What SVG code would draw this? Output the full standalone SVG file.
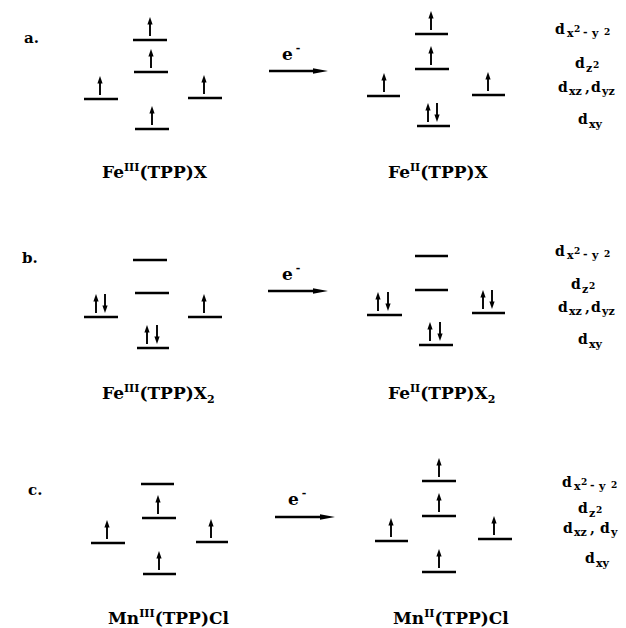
<svg xmlns="http://www.w3.org/2000/svg" width="626" height="628" viewBox="0 0 626 628">
  <style>
    .lvl { stroke: #000; stroke-width: 2.6; fill: none; }
    .shaft { stroke: #000; stroke-width: 1.9; fill: none; }
    .head { fill: #000; stroke: none; }
    .rxn { stroke: #000; stroke-width: 2.3; fill: none; }
    text { font-family: "DejaVu Serif", "Liberation Serif", serif; font-weight: bold; fill: #000; }
    .sec { font-size: 15px; }
    .cmp { font-size: 17px; }
    .sup { font-size: 11px; }
    .orb { font-size: 14px; }
    .sub { font-size: 11px; }
    .sq { font-size: 9px; }
  </style>
  <defs>
    <!-- spin-up electron: origin sits on the orbital bar -->
    <g id="up">
      <path class="shaft" d="M0,-4V-16"/>
      <path class="head" d="M-2.6,-15.5L0,-23L2.6,-15.5Z"/>
    </g>
    <!-- spin-down electron -->
    <g id="dn">
      <path class="shaft" d="M0,-23V-11"/>
      <path class="head" d="M-2.6,-11.5L0,-4L2.6,-11.5Z"/>
    </g>
    <marker id="rxhead" markerUnits="userSpaceOnUse" markerWidth="16" markerHeight="6" refX="3" refY="3" orient="auto">
      <path d="M0,0.3L15,3L0,5.7Z" fill="#000"/>
    </marker>
  </defs>

  <!-- section letters -->
  <text class="sec" x="24" y="43">a.</text>
  <text class="sec" x="22" y="263">b.</text>
  <text class="sec" x="28" y="495">c.</text>

  <!-- reduction arrows -->
  <g id="connectors">
    <path class="rxn" d="M269,71H316" marker-end="url(#rxhead)"/>
    <path class="rxn" d="M268,291H316" marker-end="url(#rxhead)"/>
    <path class="rxn" d="M275,517H323" marker-end="url(#rxhead)"/>
    <text class="cmp" x="282" y="60">e<tspan class="sup" dx="3" dy="-8">-</tspan></text>
    <text class="cmp" x="282" y="280">e<tspan class="sup" dx="3" dy="-8">-</tspan></text>
    <text class="cmp" x="288" y="505">e<tspan class="sup" dx="3" dy="-8">-</tspan></text>
  </g>

  <!-- a. Fe(III)(TPP)X -->
  <g id="fe3-x">
    <path class="lvl" d="M133,40H167M134,72H168M84,99H118M188,98H222M135,129H169"/>
    <use href="#up" x="150" y="40"/>
    <use href="#up" x="151" y="72"/>
    <use href="#up" x="100" y="99"/>
    <use href="#up" x="204" y="98"/>
    <use href="#up" x="152" y="129"/>
    <text class="cmp" x="102" y="178">Fe<tspan class="sup" dy="-7">III</tspan><tspan dy="7">(TPP)X</tspan></text>
  </g>

  <!-- a. Fe(II)(TPP)X -->
  <g id="fe2-x">
    <path class="lvl" d="M415,34H448M415,69H449M367,96H400M472,95H505M417,126H450"/>
    <use href="#up" x="431" y="34"/>
    <use href="#up" x="431" y="69"/>
    <use href="#up" x="384" y="96"/>
    <use href="#up" x="488" y="95"/>
    <use href="#up" x="428" y="126"/>
    <use href="#dn" x="437" y="126"/>
    <text class="cmp" x="388" y="178">Fe<tspan class="sup" dy="-7">II</tspan><tspan dy="7">(TPP)X</tspan></text>
  </g>

  <!-- a. orbital labels -->
  <g id="orb-a">
    <text class="orb" x="555" y="34">d<tspan class="sub" x="567" y="37">x</tspan><tspan class="sq" x="574" y="32">2</tspan><tspan class="sub" x="583" y="36">-</tspan><tspan class="sub" x="592" y="37">y</tspan><tspan class="sq" x="604" y="35">2</tspan></text>
    <text class="orb" x="575" y="68">d<tspan class="sub" x="586" y="72">z</tspan><tspan class="sq" x="593" y="68">2</tspan></text>
    <text class="orb" x="558" y="92">d<tspan class="sub" x="569" y="95">xz</tspan><tspan x="585" y="92">,</tspan><tspan x="591" y="92">d</tspan><tspan class="sub" x="602" y="95">yz</tspan></text>
    <text class="orb" x="578" y="124">d<tspan class="sub" x="589" y="128">xy</tspan></text>
  </g>

  <!-- b. Fe(III)(TPP)X2 -->
  <g id="fe3-x2">
    <path class="lvl" d="M133,260H167M135,293H169M84,317H118M188,317H222M137,348H169"/>
    <use href="#up" x="96" y="317"/>
    <use href="#dn" x="105" y="317"/>
    <use href="#up" x="204" y="317"/>
    <use href="#up" x="147" y="348"/>
    <use href="#dn" x="157" y="348"/>
    <text class="cmp" x="102" y="399">Fe<tspan class="sup" dy="-7">III</tspan><tspan dy="7">(TPP)X</tspan><tspan class="sup" dy="4">2</tspan></text>
  </g>

  <!-- b. Fe(II)(TPP)X2 -->
  <g id="fe2-x2">
    <path class="lvl" d="M415,256H448M415,290H448M367,315H402M472,313H505M419,345H453"/>
    <use href="#up" x="378" y="315"/>
    <use href="#dn" x="388" y="315"/>
    <use href="#up" x="430" y="345"/>
    <use href="#dn" x="440" y="345"/>
    <use href="#up" x="483" y="313"/>
    <use href="#dn" x="492" y="313"/>
    <text class="cmp" x="388" y="399">Fe<tspan class="sup" dy="-7">II</tspan><tspan dy="7">(TPP)X</tspan><tspan class="sup" dy="4">2</tspan></text>
  </g>

  <!-- b. orbital labels -->
  <g id="orb-b">
    <text class="orb" x="555" y="256">d<tspan class="sub" x="567" y="259">x</tspan><tspan class="sq" x="574" y="254">2</tspan><tspan class="sub" x="583" y="258">-</tspan><tspan class="sub" x="592" y="259">y</tspan><tspan class="sq" x="604" y="257">2</tspan></text>
    <text class="orb" x="571" y="289">d<tspan class="sub" x="582" y="293">z</tspan><tspan class="sq" x="589" y="289">2</tspan></text>
    <text class="orb" x="558" y="312">d<tspan class="sub" x="569" y="315">xz</tspan><tspan x="585" y="312">,</tspan><tspan x="591" y="312">d</tspan><tspan class="sub" x="602" y="315">yz</tspan></text>
    <text class="orb" x="578" y="344">d<tspan class="sub" x="589" y="348">xy</tspan></text>
  </g>

  <!-- c. Mn(III)(TPP)Cl -->
  <g id="mn3-cl">
    <path class="lvl" d="M141,484H174M142,518H176M91,543H125M196,542H228M143,574H176"/>
    <use href="#up" x="158" y="518"/>
    <use href="#up" x="107" y="543"/>
    <use href="#up" x="211" y="542"/>
    <use href="#up" x="159" y="574"/>
    <text class="cmp" x="108" y="624">Mn<tspan class="sup" dy="-7">III</tspan><tspan dy="7">(TPP)Cl</tspan></text>
  </g>

  <!-- c. Mn(II)(TPP)Cl -->
  <g id="mn2-cl">
    <path class="lvl" d="M422,481H456M422,516H456M375,541H408M478,539H512M422,572H456"/>
    <use href="#up" x="439" y="481"/>
    <use href="#up" x="439" y="516"/>
    <use href="#up" x="391" y="541"/>
    <use href="#up" x="494" y="539"/>
    <use href="#up" x="439" y="572"/>
    <text class="cmp" x="393" y="624">Mn<tspan class="sup" dy="-7">II</tspan><tspan dy="7">(TPP)Cl</tspan></text>
  </g>

  <!-- c. orbital labels -->
  <g id="orb-c">
    <text class="orb" x="562" y="487">d<tspan class="sub" x="574" y="490">x</tspan><tspan class="sq" x="581" y="485">2</tspan><tspan class="sub" x="590" y="489">-</tspan><tspan class="sub" x="599" y="490">y</tspan><tspan class="sq" x="611" y="488">2</tspan></text>
    <text class="orb" x="578" y="513">d<tspan class="sub" x="589" y="517">z</tspan><tspan class="sq" x="596" y="513">2</tspan></text>
    <text class="orb" x="563" y="533">d<tspan class="sub" x="574" y="536">xz</tspan><tspan x="590" y="533">,</tspan><tspan x="600" y="533">d</tspan><tspan class="sub" x="611" y="536">y</tspan></text>
    <text class="orb" x="585" y="563">d<tspan class="sub" x="596" y="567">xy</tspan></text>
  </g>
</svg>
